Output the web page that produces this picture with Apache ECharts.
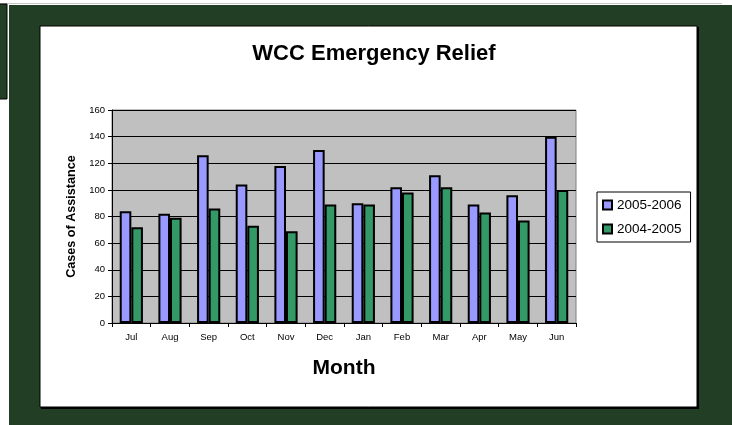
<!DOCTYPE html>
<html>
<head>
<meta charset="utf-8">
<script src="https://cdn.jsdelivr.net/npm/echarts@6/dist/echarts.min.js"></script>
<style>
  html, body { margin: 0; padding: 0; background: #ffffff; }
  #chart { width: 732px; height: 425px; }
</style>
</head>
<body>
<div id="chart"></div>
<script>
const months = ['Jul', 'Aug', 'Sep', 'Oct', 'Nov', 'Dec', 'Jan', 'Feb', 'Mar', 'Apr', 'May', 'Jun'];
const cases2005_2006 = [84, 82, 126, 104, 118, 130, 90, 102, 111, 89, 96, 140];
const cases2004_2005 = [72, 79, 86, 73, 69, 89, 89, 98, 102, 83, 77, 100];
const yTicks = [0, 20, 40, 60, 80, 100, 120, 140, 160];

const FONT = "'Liberation Sans', Arial, sans-serif";
const GREEN_BG = '#223f25';

const chart = echarts.init(document.getElementById('chart'), null, { renderer: 'canvas' });

chart.setOption({
  backgroundColor: '#ffffff',
  animation: false,
  textStyle: { fontFamily: FONT },
  graphic: [
    { type: 'line', shape: { x1: 0, y1: 3.5, x2: 722, y2: 3.5 }, style: { stroke: '#c8c8c8', lineWidth: 1 }, z: -10 },
    { type: 'rect', shape: { x: -1, y: 4, width: 8, height: 95 }, style: { fill: GREEN_BG, stroke: '#000', lineWidth: 1 }, z: -10 },
    { type: 'rect', shape: { x: 9, y: 5, width: 723, height: 420 }, style: { fill: GREEN_BG }, z: -10 },
    { type: 'rect', shape: { x: 41, y: 27, width: 658, height: 382 }, style: { fill: '#000' }, z: -9 },
    { type: 'rect', shape: { x: 40, y: 26, width: 657, height: 381 }, style: { fill: '#ffffff', stroke: '#000', lineWidth: 1 }, z: -8 }
  ],
  title: {
    text: 'WCC Emergency Relief',
    left: 369,
    textAlign: 'center',
    top: 38,
    textStyle: { fontFamily: FONT, fontSize: 22, fontWeight: 'bold', color: '#000' }
  },
  legend: {
    orient: 'vertical',
    left: 597,
    top: 192,
    padding: [6, 9, 6, 5],
    itemGap: 10,
    itemWidth: 9,
    itemHeight: 9,
    itemTextGap: 2,
    icon: 'rect',
    backgroundColor: '#ffffff',
    borderColor: '#000',
    borderWidth: 1,
    textStyle: { fontFamily: FONT, fontSize: 13.5, color: '#000' },
    data: ['2005-2006', '2004-2005']
  },
  grid: {
    left: 112,
    right: 156,
    top: 110,
    bottom: 102,
    show: true,
    backgroundColor: '#c0c0c0',
    borderColor: '#808080',
    borderWidth: 1
  },
  xAxis: {
    type: 'category',
    data: months,
    name: 'Month',
    nameLocation: 'middle',
    nameGap: 35,
    nameTextStyle: { fontFamily: FONT, fontSize: 21, fontWeight: 'bold', color: '#000' },
    axisLine: { show: true, lineStyle: { color: '#000', width: 1 } },
    axisTick: { show: true, length: 4, lineStyle: { color: '#000' } },
    axisLabel: { fontFamily: FONT, fontSize: 9.5, color: '#000', margin: 9 },
    splitLine: { show: false }
  },
  yAxis: {
    type: 'value',
    min: yTicks[0],
    max: yTicks[yTicks.length - 1],
    interval: yTicks[1] - yTicks[0],
    name: 'Cases of Assistance',
    nameLocation: 'middle',
    nameRotate: 90,
    nameGap: 34,
    nameTextStyle: { fontFamily: FONT, fontSize: 12.6, fontWeight: 'bold', color: '#000' },
    axisLine: { show: true, lineStyle: { color: '#000', width: 1 } },
    axisTick: { show: true, length: 4, lineStyle: { color: '#000' } },
    axisLabel: { fontFamily: FONT, fontSize: 9.5, color: '#000', margin: 7 },
    splitLine: { show: true, lineStyle: { color: '#000', width: 1 } }
  },
  series: [
    {
      name: '2005-2006',
      type: 'bar',
      data: cases2005_2006,
      barGap: '0%',
      barCategoryGap: '40%',
      itemStyle: { color: '#9999ff', borderColor: '#000', borderWidth: 2 }
    },
    {
      name: '2004-2005',
      type: 'bar',
      data: cases2004_2005,
      barGap: '0%',
      barCategoryGap: '40%',
      itemStyle: { color: '#339966', borderColor: '#000', borderWidth: 2 }
    }
  ]
});
</script>
</body>
</html>
